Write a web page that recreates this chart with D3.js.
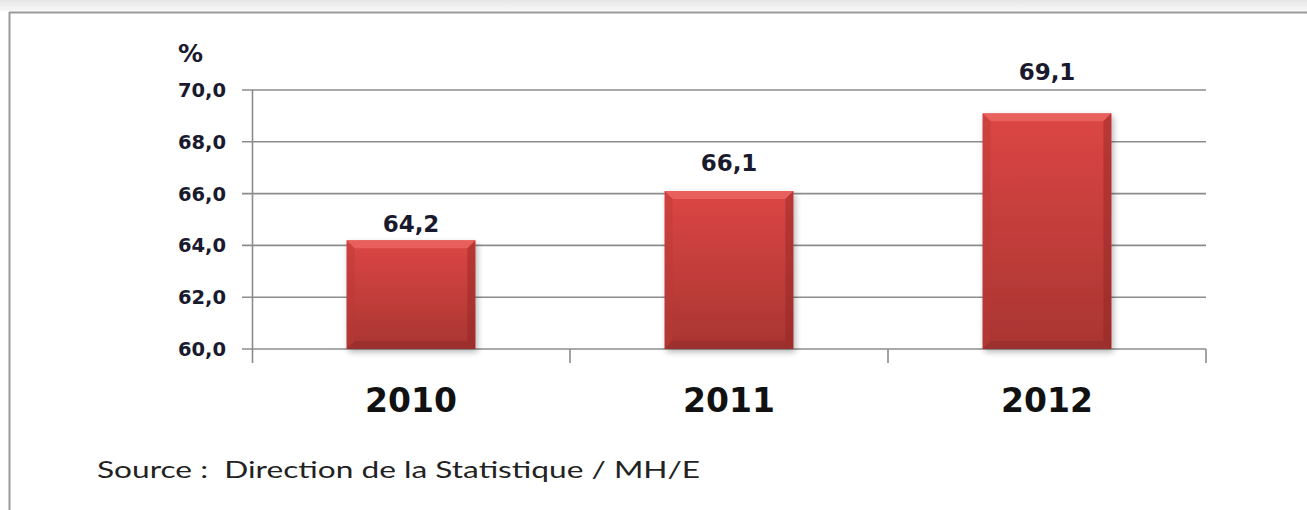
<!DOCTYPE html>
<html><head><meta charset="utf-8">
<script src="https://cdn.jsdelivr.net/npm/d3@7"></script>
<style>html,body{margin:0;padding:0;background:#fff;}svg{display:block;}</style>
</head><body>
<svg id="c" width="1307" height="510"></svg>
<script>
const categories = ["2010", "2011", "2012"];
const values = [64.2, 66.1, 69.1];
const valueLabels = ["64,2", "66,1", "69,1"];
const yTicks = [60, 62, 64, 66, 68, 70];
const yTickLabels = ["60,0", "62,0", "64,0", "66,0", "68,0", "70,0"];
const unitLabel = "%";
const sourceText = "Source :  Direction de la Statistique / MH/E";

// layout: label gaps above each bar (labels were hand-placed in the original)
const labelGap = [8, 20, 33];

const svg = d3.select("#c");
const defs = svg.append("defs");

// top shadow band
const tg = defs.append("linearGradient").attr("id","topg").attr("x1",0).attr("y1",0).attr("x2",0).attr("y2",1);
tg.append("stop").attr("offset","0%").attr("stop-color","#e6e6e6");
tg.append("stop").attr("offset","100%").attr("stop-color","#f7f7f7");
svg.append("rect").attr("x",0).attr("y",0).attr("width",1307).attr("height",11).attr("fill","url(#topg)");
// frame
svg.append("line").attr("x1",9).attr("x2",1307).attr("y1",12.5).attr("y2",12.5).attr("stroke","#9a9a9a").attr("stroke-width",2);
svg.append("line").attr("x1",9.5).attr("x2",9.5).attr("y1",12).attr("y2",510).attr("stroke","#9a9a9a").attr("stroke-width",2);

const x = d3.scaleBand().domain(categories).range([252, 1206]).paddingInner(0.595).paddingOuter(0.2975);
const y = d3.scaleLinear().domain([60, 70]).range([349, 90]);

// gridlines
svg.append("g").selectAll("line").data(yTicks).join("line")
  .attr("x1", 242).attr("x2", 1206)
  .attr("y1", d => y(d)).attr("y2", d => y(d))
  .attr("stroke", "#8c8c8c").attr("stroke-width", 1.6);

// y axis line
svg.append("line").attr("x1",252.5).attr("x2",252.5).attr("y1",y(70)).attr("y2",363).attr("stroke","#8c8c8c").attr("stroke-width",1.6);
// category ticks at band boundaries
const bandEdges = categories.map((c, i) => x(c) - x.step() * x.paddingInner() / 2 + x.step());
svg.append("g").selectAll("line").data(bandEdges).join("line")
  .attr("x1", d => d).attr("x2", d => d).attr("y1", y(60)).attr("y2", 363)
  .attr("stroke","#8c8c8c").attr("stroke-width",1.6);

// y tick labels
svg.append("g").selectAll("text").data(yTicks).join("text")
  .attr("x", 226).attr("y", d => y(d)).attr("dy", "0.36em")
  .attr("text-anchor", "end")
  .attr("font-family", "DejaVu Sans").attr("font-weight", "bold").attr("font-size", 19.5)
  .attr("fill", "#1a1a2e")
  .text((d, i) => yTickLabels[i]);

svg.append("text").attr("x", 178).attr("y", 62)
  .attr("font-family", "DejaVu Sans").attr("font-weight", "bold").attr("font-size", 25)
  .attr("fill", "#1a1a2e").text(unitLabel);

// bar gradients / shadow
const bg = defs.append("linearGradient").attr("id","barg").attr("x1",0).attr("y1",0).attr("x2",0).attr("y2",1);
bg.append("stop").attr("offset","0%").attr("stop-color","#dc4644");
bg.append("stop").attr("offset","100%").attr("stop-color","#a93532");
const sh = defs.append("filter").attr("id","sh").attr("x","-20%").attr("y","-10%").attr("width","140%").attr("height","130%");
sh.append("feGaussianBlur").attr("in","SourceAlpha").attr("stdDeviation",3);
sh.append("feOffset").attr("dx",2).attr("dy",3).attr("result","b");
sh.append("feComponentTransfer").append("feFuncA").attr("type","linear").attr("slope",0.3);
const mg = sh.append("feMerge"); mg.append("feMergeNode"); mg.append("feMergeNode").attr("in","SourceGraphic");

const bars = svg.append("g").selectAll("g").data(values).join("g");
const bev = 8;
bars.append("rect")
  .attr("x", (d,i) => x(categories[i])).attr("y", d => y(d))
  .attr("width", x.bandwidth()).attr("height", d => y(60) - y(d))
  .attr("fill", "url(#barg)").attr("filter","url(#sh)");
// top bevel
bars.append("path").attr("d", (d,i) => {
  const x0 = x(categories[i]), x1 = x0 + x.bandwidth(), t = y(d);
  return `M${x0},${t}L${x1},${t}L${x1-bev},${t+bev}L${x0+bev},${t+bev}Z`;
}).attr("fill", "#ee6b66").attr("opacity", 0.7);
// right bevel
bars.append("path").attr("d", (d,i) => {
  const x0 = x(categories[i]), x1 = x0 + x.bandwidth(), t = y(d), b = y(60);
  return `M${x1},${t}L${x1},${b}L${x1-bev},${b-bev}L${x1-bev},${t+bev}Z`;
}).attr("fill", "#8e2624").attr("opacity", 0.45);
// left bevel
bars.append("path").attr("d", (d,i) => {
  const x0 = x(categories[i]), t = y(d), b = y(60);
  return `M${x0},${t}L${x0+bev},${t+bev}L${x0+bev},${b-bev}L${x0},${b}Z`;
}).attr("fill", "#b83a37").attr("opacity", 0.4);
// bottom bevel
bars.append("path").attr("d", (d,i) => {
  const x0 = x(categories[i]), x1 = x0 + x.bandwidth(), b = y(60);
  return `M${x0},${b}L${x0+bev},${b-bev}L${x1-bev},${b-bev}L${x1},${b}Z`;
}).attr("fill", "#8a2a28").attr("opacity", 0.45);

// value labels
svg.append("g").selectAll("text").data(values).join("text")
  .attr("x", (d,i) => x(categories[i]) + x.bandwidth()/2)
  .attr("y", (d,i) => y(d) - labelGap[i])
  .attr("text-anchor", "middle")
  .attr("font-family", "DejaVu Sans").attr("font-weight", "bold").attr("font-size", 23)
  .attr("fill", "#1a1a2e")
  .text((d,i) => valueLabels[i]);

// category labels
svg.append("g").selectAll("text").data(categories).join("text")
  .attr("x", d => x(d) + x.bandwidth()/2).attr("y", 412)
  .attr("text-anchor", "middle")
  .attr("font-family", "DejaVu Sans").attr("font-weight", "bold").attr("font-size", 33)
  .attr("fill", "#111")
  .text(d => d);

svg.append("text").attr("x", 97).attr("y", 478)
  .attr("font-family", "Lato").attr("font-size", 24)
  .attr("textLength", 603).attr("lengthAdjust","spacingAndGlyphs")
  .attr("fill", "#222").attr("xml:space","preserve")
  .style("white-space","pre")
  .text(sourceText);
</script>
</body></html>
